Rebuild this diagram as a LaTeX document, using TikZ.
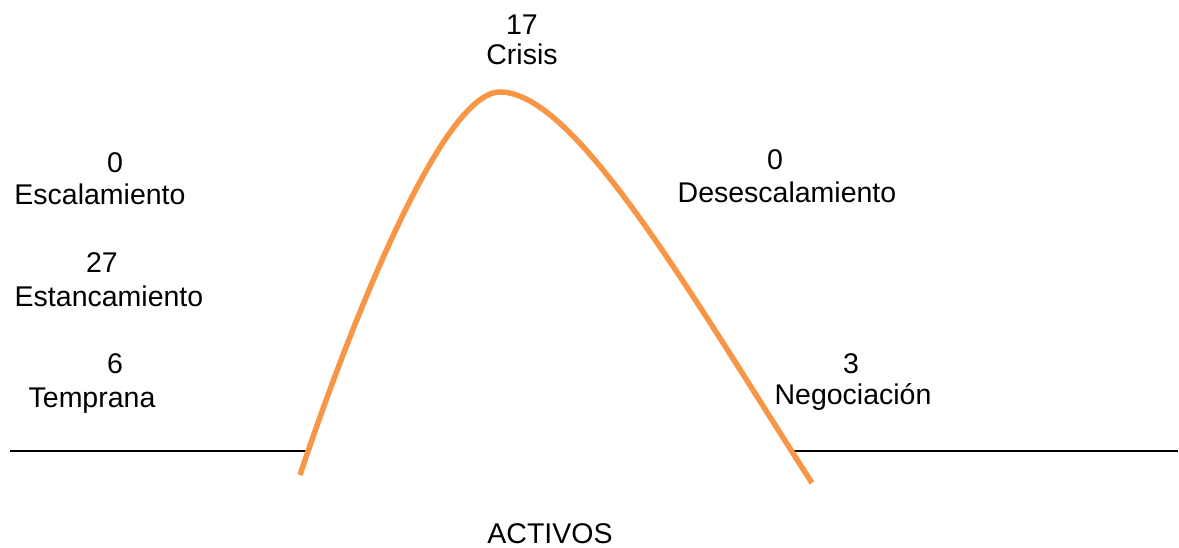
\documentclass[tikz,border=0pt]{standalone}
\usepackage{fontspec}
\setmainfont{Liberation Sans}
\usetikzlibrary{positioning}
\definecolor{curveorange}{RGB}{247,150,70}

\begin{document}
\begin{tikzpicture}[
    x=1pt,y=-1pt,
    inner sep=0pt, %text sits right on its base point
    txt/.style={anchor=base,font=\fontsize{28.5}{34}\selectfont},
    base/.style={draw=black,line width=1.8pt},
    bell/.style={draw=curveorange,line width=5.5pt,line cap=butt},
    ]
    \useasboundingbox (0,0) rectangle (1179,548);
    % values and phases
    \node[txt] (ncri) at (522,35) {17};
    \node[txt] (tcri) at (522,65) {Crisis};
    \node[txt] (nesc) at (115,173) {0};
    \node[txt] (tesc) at (100,205) {Escalamiento};
    \node[txt] (nest) at (102,273) {27};
    \node[txt] (test) at (109,307) {Estancamiento};
    \node[txt] (ntem) at (115,373) {6};
    \node[txt] (ttem) at (92,407) {Temprana};
    \node[txt] (ndes) at (775,170) {0};
    \node[txt] (tdes) at (787,203) {Desescalamiento};
    \node[txt] (nneg) at (851,373) {3};
    \node[txt] (tneg) at (853,404) {Negociación};
    \node[txt] (act) at (550,543) {ACTIVOS};
    % ground line
    \coordinate (la) at (10,451);
    \coordinate (lb) at (308,451);
    \coordinate (ra) at (793,451);
    \coordinate (rb) at (1178,451);
    \draw[base] (la) -- (lb);
    \draw[base] (ra) -- (rb);
    % the curve
    \coordinate (cs) at (300,475);
    \coordinate (ctop) at (500,92);
    \coordinate (ce) at (812,483);
    \draw[bell] (cs) .. controls (345,340) and (440,92) .. (ctop)
        .. controls (575,92) and (690,293) .. (ce);
\end{tikzpicture}
\end{document}
